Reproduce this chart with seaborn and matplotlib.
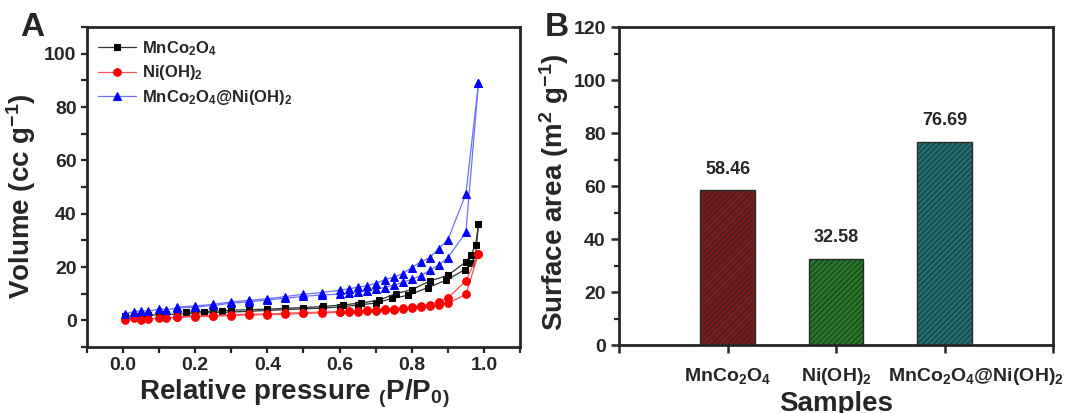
import matplotlib
matplotlib.use('Agg')
import matplotlib.pyplot as plt
from matplotlib.ticker import MultipleLocator
import seaborn as sns

# ---- panel A: N2 isotherms (P/P0, volume in cc/g)
p_ads = [0.005, 0.03, 0.05, 0.07, 0.10, 0.12, 0.15, 0.20, 0.25, 0.30, 0.35, 0.40, 0.45, 0.50, 0.55,
         0.60, 0.625, 0.65, 0.675, 0.70, 0.725, 0.75, 0.775, 0.80, 0.825, 0.85, 0.875, 0.90, 0.95, 0.985]
p_des = [0.985, 0.95, 0.90, 0.875, 0.85, 0.825, 0.80, 0.775, 0.75, 0.725, 0.70, 0.675, 0.65, 0.625,
         0.60, 0.55, 0.50, 0.45, 0.40, 0.35, 0.30, 0.25, 0.20, 0.15]

mn_p_ads = [0.005, 0.03, 0.05, 0.07, 0.10, 0.12, 0.15, 0.20, 0.25, 0.30, 0.35, 0.40, 0.45, 0.50, 0.55,
            0.60, 0.65, 0.70, 0.745, 0.79, 0.845, 0.895, 0.947, 0.965, 0.977, 0.985]
mn_v_ads = [1.5, 1.7, 1.8, 1.9, 2.1, 2.2, 2.3, 2.6, 2.9, 3.1, 3.4, 3.7, 4.0, 4.3, 4.6,
            5.0, 5.7, 6.5, 8.2, 9.4, 12.3, 15.0, 19.0, 21.5, 24.5, 36.0]
mn_p_des = [0.985, 0.977, 0.963, 0.95, 0.90, 0.85, 0.80, 0.755, 0.71, 0.66, 0.61, 0.555, 0.50, 0.45,
            0.40, 0.35, 0.30, 0.275, 0.225, 0.175]
mn_v_des = [36.0, 28.1, 24.4, 21.9, 16.9, 14.7, 11.5, 10.0, 7.6, 6.5, 5.8, 5.2, 4.8, 4.5,
            4.2, 4.0, 3.8, 3.6, 3.3, 3.0]

ni_v_ads = [0.3, 0.8, 0.1, 0.4, 0.9, 0.9, 1.1, 1.4, 1.5, 1.8, 2.0, 2.1, 2.3, 2.6, 2.8,
            3.0, 3.2, 3.3, 3.5, 3.6, 3.8, 3.9, 4.2, 4.5, 4.9, 5.2, 5.7, 6.4, 9.7, 25.0]
ni_v_des = [25.0, 14.8, 8.4, 6.9, 5.9, 5.4, 5.0, 4.7, 4.4, 4.2, 4.0, 3.8, 3.6, 3.5,
            3.3, 3.1, 2.9, 2.6, 2.4, 2.3, 2.1, 1.8, 1.6, 1.3]

cs_v_ads = [2.5, 3.3, 3.6, 3.4, 4.2, 4.0, 4.6, 5.0, 5.6, 6.4, 7.0, 7.6, 8.3, 9.0, 9.5,
            9.8, 10.2, 10.7, 11.0, 11.7, 12.3, 13.2, 14.2, 15.4, 16.7, 18.8, 20.7, 23.5, 33.0, 89.0]
cs_v_des = [89.0, 47.4, 30.2, 26.9, 23.5, 21.9, 19.8, 17.5, 16.2, 15.2, 13.8, 13.0, 12.4, 11.8,
            11.3, 10.4, 9.8, 8.9, 8.1, 7.5, 6.9, 6.0, 5.4, 5.0]

# ---- panel B: BET surface area
samples = ['MnCo$_2$O$_4$', 'Ni(OH)$_2$', 'MnCo$_2$O$_4$@Ni(OH)$_2$']
areas = [58.46, 32.58, 76.69]
bar_colors = ['#8b0a0a', '#138a13', '#0a7f80']

sns.set_style('ticks')
plt.rcParams['font.family'] = ['Liberation Sans', 'DejaVu Sans']
plt.rcParams['font.weight'] = 'bold'
plt.rcParams['mathtext.default'] = 'regular'
plt.rcParams['axes.linewidth'] = 2.0
plt.rcParams['hatch.linewidth'] = 0.7

fig = plt.figure(figsize=(10.66, 4.13), dpi=100)
ax1 = fig.add_axes([0.0816, 0.1598, 0.4062, 0.7748])
ax2 = fig.add_axes([0.5807, 0.1646, 0.4071, 0.7700])

# ---- panel A
series = [
    ('MnCo$_2$O$_4$', mn_p_ads, mn_v_ads, mn_p_des, mn_v_des, 's', 'black', '#333333', 5),
    ('Ni(OH)$_2$', p_ads, ni_v_ads, p_des, ni_v_des, 'o', 'red', '#ff5050', 5.5),
    ('MnCo$_2$O$_4$@Ni(OH)$_2$', p_ads, cs_v_ads, p_des, cs_v_des, '^', 'blue', '#6f6fff', 6),
]
for name, pa, va, pd_, vd, mk, col, lcol, ms in series:
    sns.lineplot(x=pa, y=va, sort=False, estimator=None, ax=ax1, color=lcol, linewidth=0.9,
                 marker=mk, markersize=ms, markerfacecolor=col, markeredgecolor=col, label=name)
    sns.lineplot(x=pd_, y=vd, sort=False, estimator=None, ax=ax1, color=lcol, linewidth=0.9,
                 marker=mk, markersize=ms, markerfacecolor=col, markeredgecolor=col)

ax1.set_xlim(-0.1, 1.1)
ax1.set_ylim(-10, 110)
ax1.xaxis.set_major_locator(MultipleLocator(0.2))
ax1.xaxis.set_minor_locator(MultipleLocator(0.1))
ax1.yaxis.set_major_locator(MultipleLocator(20))
ax1.yaxis.set_minor_locator(MultipleLocator(10))
ax1.tick_params(which='major', direction='out', length=4.5, width=1.6, labelsize=14, pad=3)
ax1.tick_params(which='minor', direction='out', length=4.0, width=1.6)
ax1.set_xlabel('Relative pressure $_($P/P$_0$$_)$', fontsize=20, fontweight='bold')
ax1.set_ylabel('Volume (cc g$^{-1}$)', fontsize=20, fontweight='bold')
ax1.xaxis.set_label_coords(0.48, -0.095)
ax1.yaxis.set_label_coords(-0.112, 0.47)
ax1.legend(loc='upper left', bbox_to_anchor=(-0.01, 1.01), frameon=False, fontsize=12,
           handlelength=2.3, handletextpad=0.35, labelspacing=0.35)

# ---- panel B
sns.barplot(x=samples, y=areas, hue=samples, palette=bar_colors, width=0.5, legend=False,
            edgecolor='#2a2a2a', linewidth=1.0, ax=ax2)
for patch in ax2.patches:
    patch.set_hatch('//////')
for cont in ax2.containers:
    ax2.bar_label(cont, fmt='%.2f', padding=9, fontsize=13, fontweight='bold')

ax2.set_xlim(-1, 3)
# tick marks at every slot; the labels sit on minor ticks so the long one can
# be nudged right of its bar, as in the original figure
ax2.xaxis.remove_overlapping_locs = False
ax2.set_xticks([-1, 0, 1, 2, 3], labels=['', '', '', '', ''])
ax2.set_xticks([0, 1, 2.29], labels=samples, minor=True)
ax2.set_ylim(0, 120)
ax2.yaxis.set_major_locator(MultipleLocator(20))
ax2.yaxis.set_minor_locator(MultipleLocator(10))
ax2.tick_params(which='major', direction='out', length=6, width=1.8, labelsize=14)
ax2.tick_params(which='minor', direction='out', length=3.5, width=1.6)
ax2.tick_params(axis='x', which='minor', length=0, pad=15, labelsize=14)
ax2.set_xlabel('Samples', fontsize=20, fontweight='bold')
ax2.set_ylabel('Surface area (m$^2$ g$^{-1}$)', fontsize=20, fontweight='bold')
ax2.xaxis.set_label_coords(0.5, -0.145)
ax2.yaxis.set_label_coords(-0.11, 0.48)

fig.text(20 / 1066, 1 - 12 / 413, 'A', fontsize=24, fontweight='bold', ha='left', va='top')
fig.text(545 / 1066, 1 - 12 / 413, 'B', fontsize=24, fontweight='bold', ha='left', va='top')

fig.savefig('out.png', dpi=100)
